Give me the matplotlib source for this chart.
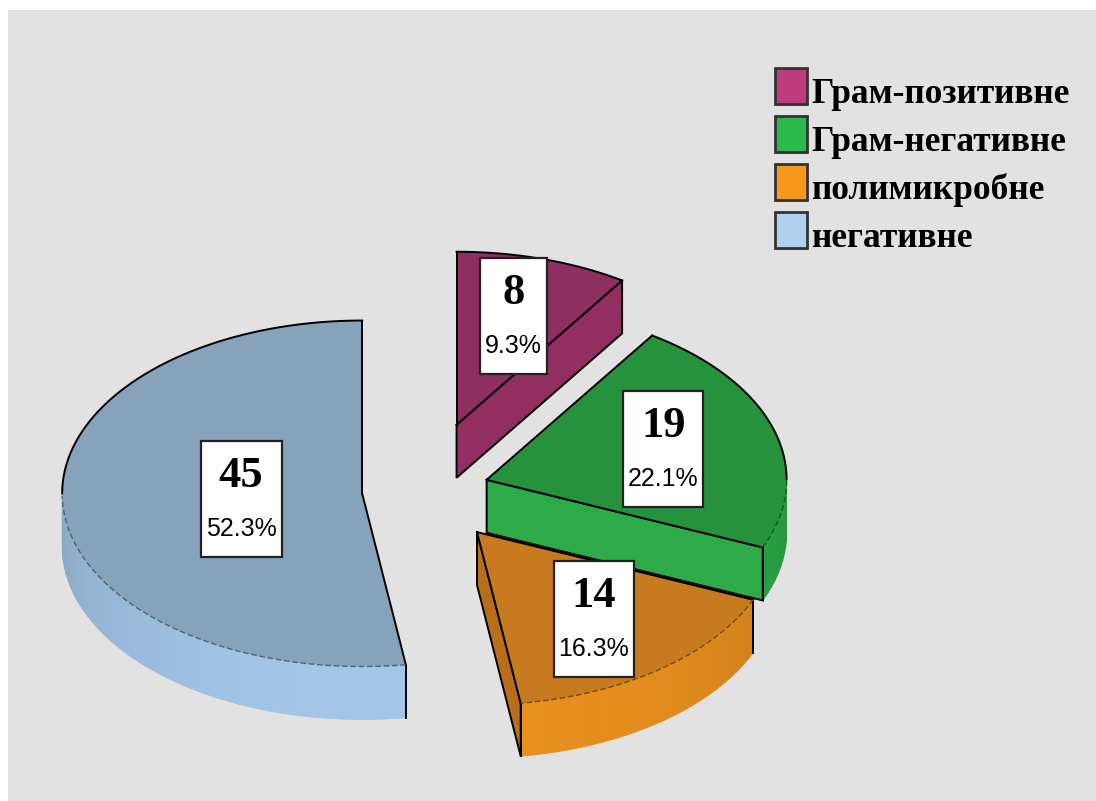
import numpy as np
import matplotlib
matplotlib.use('Agg')
import matplotlib.pyplot as plt
from matplotlib.patches import Polygon, Rectangle
from matplotlib.colors import to_rgb

# Дані
categories = ['Грам-позитивне', 'Грам-негативне', 'полимикробне', 'негативне']
counts = [8, 19, 14, 45]

# Кольори: легенда, верх сектора, бічна грань, зовнішня стінка
legend_colors = ['#BE3B7E', '#2DB84B', '#F7981D', '#AFD0EE']
top_colors = ['#8F2F5F', '#26923B', '#C87A1E', '#87A3BC']
face_colors = ['#932F60', '#2CAB48', '#B86E18', '#8FAFCC']
wall_colors = ['#A0386E', '#2DB04A', '#E8901E', '#A3C6E8']
explode = [0.4, 0.225, 0.3, 0.2]

W, H = 1096, 801
CX, CY = 422, 491      # центр "пирога" в пікселях
RX, RY = 300, 173      # півосі еліпса
DEPTH = 53             # товщина

fig = plt.figure(figsize=(W / 100, H / 100), dpi=100, facecolor='white')
ax = fig.add_axes([0, 0, 1, 1])
ax.set_xlim(0, W)
ax.set_ylim(H, 0)
ax.axis('off')

ax.add_patch(Rectangle((8, 10), W - 8, H - 10, facecolor='#E2E2E2', edgecolor='none', zorder=0))


def rim(ox, oy, th, dz=0.0):
    return ox + RX * np.sin(th), oy - RY * np.cos(th) + dz


def shade(color, k):
    r, g, b = to_rgb(color)
    return (min(r * k, 1), min(g * k, 1), min(b * k, 1))


fracs = np.array(counts) / sum(counts)
bounds = np.concatenate([[0], np.cumsum(fracs)]) * 2 * np.pi

slices = []
for i in range(len(counts)):
    a0, a1 = bounds[i], bounds[i + 1]
    m = (a0 + a1) / 2
    ox = CX + explode[i] * RX * np.sin(m)
    oy = CY - explode[i] * RY * np.cos(m)
    slices.append((i, a0, a1, m, ox, oy))

# порядок малювання: задні сектори спочатку
draw_order = [3, 0, 2, 1]

z = 1
for i in draw_order:
    _, a0, a1, m, ox, oy = slices[i]

    # зовнішня стінка (тільки передня половина)
    f0, f1 = max(a0, np.pi / 2), min(a1, 3 * np.pi / 2)
    if f1 > f0:
        n = max(int((f1 - f0) / 0.04), 2)
        ths = np.linspace(f0, f1, n + 1)
        for t0, t1 in zip(ths[:-1], ths[1:]):
            tm = (t0 + t1) / 2
            c = shade(wall_colors[i], 0.84 + 0.16 * max(0.0, -np.cos(tm)))
            pts = [rim(ox, oy, t0), rim(ox, oy, t1), rim(ox, oy, t1, DEPTH), rim(ox, oy, t0, DEPTH)]
            ax.add_patch(Polygon(pts, closed=True, facecolor=c, edgecolor=c, lw=0.6, zorder=z))
        for a in (a0, a1):
            if f0 <= a <= f1 and np.pi / 2 < a < 3 * np.pi / 2:
                x0, y0 = rim(ox, oy, a)
                ax.plot([x0, x0], [y0, y0 + DEPTH], color='black', lw=1.4, zorder=z + 0.5)

    # радіальні грані, повернуті до глядача
    for a, nrm in ((a0, a0 - np.pi / 2), (a1, a1 + np.pi / 2)):
        if np.cos(nrm) < -1e-3:
            x1, y1 = rim(ox, oy, a)
            pts = [(ox, oy), (x1, y1), (x1, y1 + DEPTH), (ox, oy + DEPTH)]
            ax.add_patch(Polygon(pts, closed=True, facecolor=face_colors[i],
                                 edgecolor='black', lw=1.4, zorder=z + 1))

    # верхня поверхня
    ths = np.linspace(a0, a1, 200)
    arc = [rim(ox, oy, t) for t in ths]
    ax.add_patch(Polygon([(ox, oy)] + arc, closed=True, facecolor=top_colors[i],
                         edgecolor='none', zorder=z + 2))
    ax.plot([ox, arc[0][0]], [oy, arc[0][1]], color='black', lw=1.4, zorder=z + 3)
    ax.plot([ox, arc[-1][0]], [oy, arc[-1][1]], color='black', lw=1.4, zorder=z + 3)
    xs = np.array([p[0] for p in arc])
    ys = np.array([p[1] for p in arc])
    back = np.cos(ths) >= 0
    ax.plot(np.where(back, xs, np.nan), np.where(back, ys, np.nan), color='black', lw=1.4, zorder=z + 3)
    ax.plot(np.where(~back, xs, np.nan), np.where(~back, ys, np.nan), color=shade(top_colors[i], 0.6),
            lw=1.0, ls=(0, (4, 2)), zorder=z + 3)
    z += 5

# підписи: кількість і відсоток у білих рамках (у центрі мас сектора)
label_items = []
for i, a0, a1, m, ox, oy in slices:
    half = (a1 - a0) / 2
    k = (2 / 3) * np.sin(half) / half
    lx = ox + k * RX * np.sin(m)
    ly = oy - k * RY * np.cos(m)
    t1 = ax.text(lx, ly - 23, f'{counts[i]}', ha='center', va='center',
                 fontsize=32, fontweight='bold', family='Liberation Serif', zorder=60)
    t2 = ax.text(lx, ly + 30, f'{fracs[i] * 100:.1f}%', ha='center', va='center',
                 fontsize=18, family='Liberation Sans', zorder=60)
    label_items.append((lx, ly, t1, t2))

fig.canvas.draw()
rend = fig.canvas.get_renderer()
for lx, ly, t1, t2 in label_items:
    w = max(t1.get_window_extent(rend).width, t2.get_window_extent(rend).width) + 10
    ax.add_patch(Rectangle((lx - w / 2, ly - 58), w, 116, facecolor='white',
                           edgecolor='#222222', lw=1.6, zorder=55))

# легенда
for j, name in enumerate(categories):
    y0 = 68 + 48 * j
    ax.add_patch(Rectangle((775, y0), 32, 36, facecolor=legend_colors[j],
                           edgecolor='#333333', lw=2, zorder=60))
    ax.text(811, y0 + 35, name, ha='left', va='baseline', fontsize=25.5,
            fontweight='bold', family='Liberation Serif', zorder=60)

fig.savefig('out.png', dpi=100, facecolor='white')
